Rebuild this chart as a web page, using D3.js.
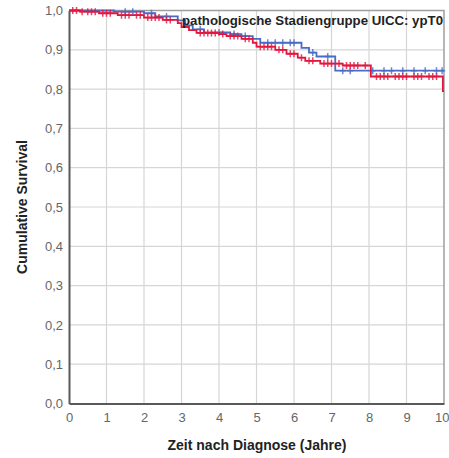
<!DOCTYPE html>
<html>
<head>
<meta charset="utf-8">
<script src="https://cdn.jsdelivr.net/npm/d3@7"></script>
<style>
  body { margin: 0; background: #fff; }
  text { font-family: "Liberation Sans", Arial, sans-serif; }
</style>
</head>
<body>
<div id="chart"></div>
<script>
// survival steps (time in years, cumulative survival) per group
var blueTimes = [0, 1.2, 2.0, 2.3, 2.9, 3.1, 3.3, 3.6, 4.3, 4.6, 4.9, 5.1, 6.2, 6.4, 6.6, 7.1, 10];
var blueSurv  = [1.0, 0.997, 0.993, 0.985, 0.975, 0.962, 0.952, 0.944, 0.94, 0.935, 0.928, 0.918, 0.905, 0.893, 0.883, 0.847, 0.847];
var redTimes  = [0, 0.3, 0.8, 1.3, 2.0, 2.5, 2.9, 3.0, 3.2, 3.4, 4.0, 4.2, 4.6, 4.9, 5.0, 5.5, 5.8, 6.1, 6.3, 6.7, 7.3, 8.05, 9.97, 10];
var redSurv   = [1.0, 0.997, 0.993, 0.988, 0.982, 0.976, 0.968, 0.958, 0.95, 0.943, 0.94, 0.935, 0.928, 0.918, 0.908, 0.9, 0.89, 0.88, 0.872, 0.865, 0.86, 0.832, 0.795, 0.795];

// censored observations
var blueCensor = [1.5, 1.7, 2.2, 2.6, 3.5, 4.0, 4.4, 4.7, 5.3, 5.5, 5.7, 5.9, 6.0, 6.5, 6.9, 7.3, 7.5, 8.1, 8.4, 8.6, 8.9, 9.2, 9.5, 9.8, 9.95];
var redCensor  = [0.1, 0.2, 0.35, 0.5, 0.6, 0.7, 0.9, 1.0, 1.1, 1.4, 1.5, 1.6, 1.8, 1.9, 2.1, 2.2, 2.3, 2.4, 2.6, 2.7, 3.5, 3.6, 3.7, 3.8, 3.9, 4.1, 4.3, 4.4, 4.5, 4.7, 4.8, 5.1, 5.2, 5.3, 5.4, 5.6, 5.7, 5.9, 6.0, 6.2, 6.4, 6.5, 6.8, 6.9, 7.0, 7.2, 7.4, 7.5, 7.6, 7.7, 7.9, 8.2, 8.3, 8.4, 8.5, 8.7, 8.8, 8.9, 9.0, 9.2, 9.3, 9.4, 9.6, 9.7, 9.8];

var xTicks = [0, 1, 2, 3, 4, 5, 6, 7, 8, 9, 10];
var yTicks = [0, 0.1, 0.2, 0.3, 0.4, 0.5, 0.6, 0.7, 0.8, 0.9, 1.0];

var legendTitle = "pathologische Stadiengruppe UICC: ypT0";
var xTitle = "Zeit nach Diagnose (Jahre)";
var yTitle = "Cumulative Survival";

//dimensions
var W = 449, H = 458;
var margin = {top: 10.5, right: 5, bottom: 54.5, left: 69},
    width = 444 - margin.left,
    height = 403.5 - margin.top;

var svg = d3.select('#chart')
    .append('svg')
    .attr('width', W)
    .attr('height', H);

var g = svg.append('g')
    .attr('transform', 'translate(' + margin.left + ',' + margin.top + ')');

var x = d3.scaleLinear().domain([0, 10]).range([0, width]);
var y = d3.scaleLinear().domain([0, 1]).range([height, 0]);

//grid lines
g.selectAll('.vgrid')
    .data(xTicks.slice(1, -1))
    .enter().append('line')
    .attr('x1', function(d) { return x(d); })
    .attr('x2', function(d) { return x(d); })
    .attr('y1', 0).attr('y2', height)
    .style('stroke', '#d6d6d6')
    .style('stroke-width', 1.2);

g.selectAll('.hgrid')
    .data(yTicks.slice(1, -1))
    .enter().append('line')
    .attr('x1', 0).attr('x2', width)
    .attr('y1', function(d) { return y(d); })
    .attr('y2', function(d) { return y(d); })
    .style('stroke', '#d6d6d6')
    .style('stroke-width', 1.2);

//frame top/right
g.append('path')
    .attr('d', 'M0,0H' + width + 'V' + height)
    .style('fill', 'none')
    .style('stroke', '#9e9e9e')
    .style('stroke-width', 1.5);

//curves
function stepData(times, surv) {
  return times.map(function(t, i) { return [t, surv[i]]; });
}
var line = d3.line()
    .x(function(d) { return x(d[0]); })
    .y(function(d) { return y(d[1]); })
    .curve(d3.curveStepAfter);

function survAt(times, surv, t) {
  var i = d3.bisectRight(times, t) - 1;
  return surv[Math.max(0, i)];
}

function drawGroup(times, surv, censor, color) {
  g.append('path')
    .datum(stepData(times, surv))
    .attr('d', line)
    .style('fill', 'none')
    .style('stroke', color)
    .style('stroke-width', 1.8);

  var cg = g.append('g');
  censor.forEach(function(t) {
    var cx = x(t), cy = y(survAt(times, surv, t));
    cg.append('path')
      .attr('d', 'M' + (cx - 3) + ',' + cy + 'H' + (cx + 3) + 'M' + cx + ',' + (cy - 3.5) + 'V' + (cy + 3.5))
      .style('stroke', color)
      .style('stroke-width', 1.5)
      .style('opacity', 0.8);
  });
}

drawGroup(blueTimes, blueSurv, blueCensor, '#4a6cc6');
drawGroup(redTimes, redSurv, redCensor, '#e1173f');

//axes
var xAxis = g.append('g')
    .attr('transform', 'translate(0,' + height + ')')
    .call(d3.axisBottom(x).tickValues(xTicks).tickSize(0).tickPadding(9).tickFormat(d3.format('d')));
var yAxis = g.append('g')
    .call(d3.axisLeft(y).tickValues(yTicks).tickSize(0).tickPadding(6)
      .tickFormat(function(d) { return d.toFixed(1).replace('.', ','); }));

[xAxis, yAxis].forEach(function(a) {
  a.select('.domain').style('stroke', '#595959').style('stroke-width', 2);
  a.selectAll('text')
    .style('font-family', '"Liberation Sans", Arial, sans-serif')
    .style('font-size', '13px')
    .style('fill', '#666');
});
xAxis.selectAll('text').attr('dy', '0.71em').attr('y', 9);
// keep the last label inside the picture
xAxis.selectAll('text').filter(function(d) { return d === 10; })
    .attr('text-anchor', 'end').attr('x', 5);

//legend title
svg.append('text')
    .attr('x', 182)
    .attr('y', 25)
    .attr('textLength', 261)
    .attr('lengthAdjust', 'spacingAndGlyphs')
    .style('font-size', '12.5px')
    .style('font-weight', 'bold')
    .style('fill', '#222')
    .text(legendTitle);

//axis titles
svg.append('text')
    .attr('x', 257)
    .attr('y', 450)
    .attr('text-anchor', 'middle')
    .style('font-size', '14px')
    .style('font-weight', 'bold')
    .style('fill', '#222')
    .text(xTitle);

svg.append('text')
    .attr('transform', 'translate(27,207) rotate(-90)')
    .attr('text-anchor', 'middle')
    .style('font-size', '14px')
    .style('font-weight', 'bold')
    .style('fill', '#222')
    .text(yTitle);
</script>
</body>
</html>
